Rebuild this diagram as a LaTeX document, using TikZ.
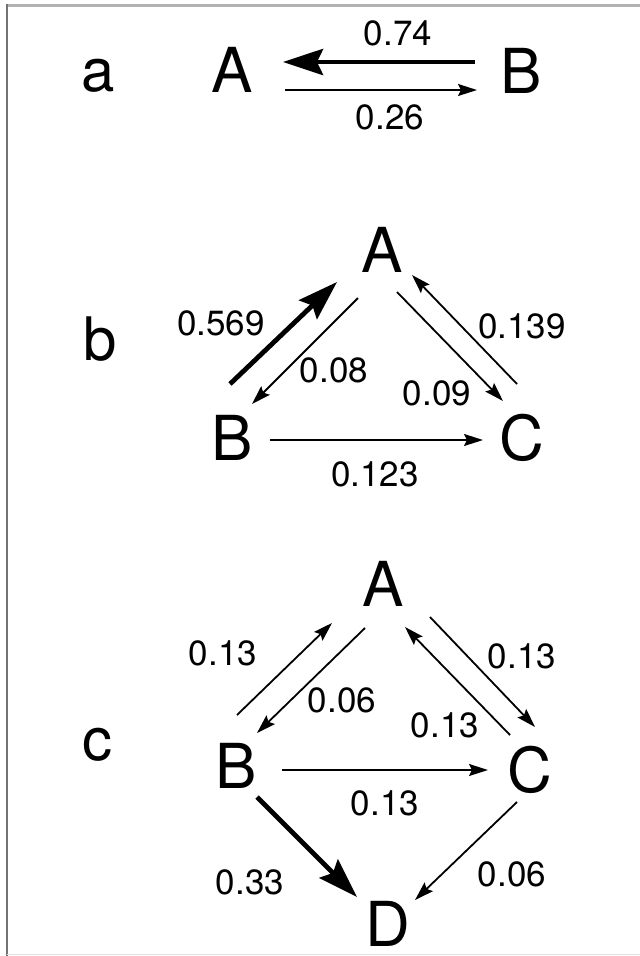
\documentclass[tikz,border=0pt]{standalone}
\usepackage{fontspec}
\setmainfont{TeX Gyre Heros}
\usetikzlibrary{arrows.meta}
\begin{document}
\begin{tikzpicture}[x=1pt,y=-1pt,
  letter/.style={inner sep=0pt,font=\fontsize{62}{62}\selectfont},
  panel/.style={inner sep=0pt,font=\fontsize{60}{60}\selectfont},
  num/.style={inner sep=0pt,font=\fontsize{35}{35}\selectfont},
  thinarrow/.style={line width=1.8pt,-{Stealth[length=19pt,width=12pt,inset=3pt]}},
  thickarrow/.style={line width=4.8pt,-{Stealth[length=40pt,width=26pt,inset=6pt]}},
  frameline/.style={line width=2pt,draw=black!55}]
\useasboundingbox (0,0) rectangle (640,956);
\fill[white] (0,0) rectangle (640,956);
% frame
\draw[line width=3pt,draw=black!30] (7,5) -- (640,5);
\draw[frameline] (7,4) -- (7,956);
\draw[line width=1pt,draw=black!12] (7,954) -- (640,954);

% panel a
\node[panel] (la) at (98,76) {a};
\node[letter] (aA) at (232,70) {A};
\node[letter] (aB) at (521,71) {B};
\draw[thickarrow] ([shift={(-46,-9)}]aB.center) -- ([shift={(51,-8)}]aA.center);
\draw[thinarrow] ([shift={(53,20)}]aA.center) -- ([shift={(-44,19)}]aB.center);
\node[num] (a1) at (398,33) {0.74};
\node[num] (a2) at (390,117) {0.26};

% panel b
\node[panel] (lb) at (100,339) {b};
\node[letter] (bA) at (382,250) {A};
\node[letter] (bB) at (232,438) {B};
\node[letter] (bC) at (522,438) {C};
\draw[thickarrow] ([shift={(-2,-54)}]bB.center) -- ([shift={(-45,32)}]bA.center);
\draw[thinarrow] ([shift={(-24,48)}]bA.center) -- ([shift={(20,-34)}]bB.center);
\draw[thinarrow] ([shift={(15,42)}]bA.center) -- ([shift={(-19,-37)}]bC.center);
\draw[thinarrow] ([shift={(-5,-54)}]bC.center) -- ([shift={(30,25)}]bA.center);
\draw[thinarrow] ([shift={(38,2)}]bB.center) -- ([shift={(-39,2)}]bC.center);
\node[num] (b1) at (221,323) {0.569};
\node[num] (b2) at (334,370) {0.08};
\node[num] (b3) at (522,326) {0.139};
\node[num] (b4) at (437,393) {0.09};
\node[num] (b5) at (375,474) {0.123};

% panel c
\node[panel] (lc) at (97,745) {c};
\node[letter] (cA) at (383,584) {A};
\node[letter] (cB) at (236,766) {B};
\node[letter] (cC) at (530,770) {C};
\node[letter] (cD) at (388,924) {D};
\draw[thinarrow] ([shift={(1,-51)}]cB.center) -- ([shift={(-51,39)}]cA.center);
\draw[thinarrow] ([shift={(-18,44)}]cA.center) -- ([shift={(21,-33)}]cB.center);
\draw[thinarrow] ([shift={(47,33)}]cA.center) -- ([shift={(5,-43)}]cC.center);
\draw[thinarrow] ([shift={(-20,-35)}]cC.center) -- ([shift={(22,43)}]cA.center);
\draw[thinarrow] ([shift={(46,4)}]cB.center) -- ([shift={(-42,0)}]cC.center);
\draw[thickarrow] ([shift={(21,31)}]cB.center) -- ([shift={(-31,-27)}]cD.center);
\draw[thinarrow] ([shift={(-13,32)}]cC.center) -- ([shift={(27,-24)}]cD.center);
\node[num] (c1) at (223,653) {0.13};
\node[num] (c2) at (342,700) {0.06};
\node[num] (c3) at (522,656) {0.13};
\node[num] (c4) at (445,725) {0.13};
\node[num] (c5) at (385,803) {0.13};
\node[num] (c6) at (250,882) {0.33};
\node[num] (c7) at (512,874) {0.06};
\end{tikzpicture}
\end{document}
